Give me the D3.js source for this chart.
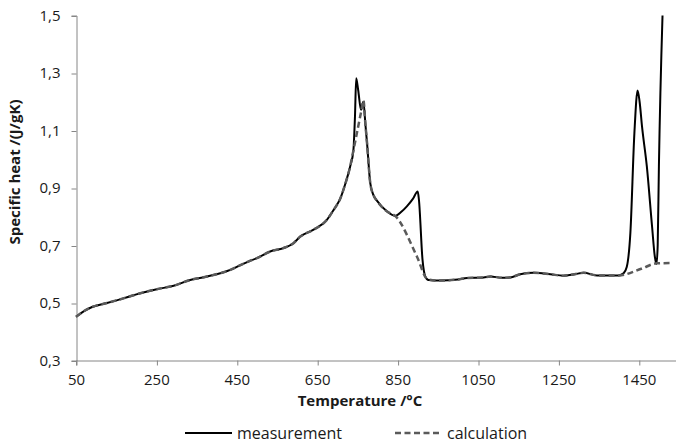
<!DOCTYPE html>
<html><head><meta charset="utf-8">
<script src="https://cdn.jsdelivr.net/npm/d3@7"></script>
<style>body{margin:0;background:#fff}svg{display:block}text{font-family:"Open Sans",sans-serif;fill:#1a1a1a}</style>
</head><body>
<svg id="c" width="676" height="443"></svg>
<script>
const xTicks = [50, 250, 450, 650, 850, 1050, 1250, 1450];
const yTicks = [0.3, 0.5, 0.7, 0.9, 1.1, 1.3, 1.5];
const seriesNames = ["measurement", "calculation"];

const measT = [50,70,90,127,170,210,251,293,334,376,417,434,459,480,500,533,566,591,608,641,674,691,707,720,732,740,744,747,752,759,765,770,774,782,790,799,824,844,860,873,888,900,903,912,919,927,956,1000,1023,1064,1081,1110,1130,1155,1188,1230,1262,1290,1313,1346,1400,1412,1420,1429,1439,1447,1452,1458,1470,1483,1490,1494,1497,1500,1509];
const measV = [0.452,0.472,0.486,0.500,0.517,0.534,0.548,0.560,0.580,0.592,0.607,0.615,0.632,0.645,0.656,0.679,0.691,0.708,0.731,0.755,0.789,0.824,0.862,0.915,0.975,1.030,1.150,1.282,1.240,1.172,1.200,1.120,1.056,0.917,0.875,0.855,0.818,0.803,0.818,0.836,0.862,0.888,0.860,0.650,0.592,0.580,0.578,0.582,0.587,0.589,0.592,0.588,0.589,0.600,0.605,0.600,0.595,0.600,0.605,0.596,0.596,0.603,0.625,0.743,1.090,1.239,1.200,1.114,0.975,0.766,0.660,0.636,0.700,0.975,1.500];

const calcT = [50,70,90,127,170,210,251,293,334,376,417,434,459,480,500,533,566,591,608,641,674,691,707,720,732,740,750,760,765,770,774,782,790,799,824,844,898,925,956,1000,1023,1064,1081,1110,1130,1155,1188,1230,1262,1290,1313,1346,1400,1456,1495,1535];
const calcV = [0.452,0.472,0.486,0.500,0.517,0.534,0.548,0.560,0.580,0.592,0.607,0.615,0.632,0.645,0.656,0.679,0.691,0.708,0.731,0.755,0.789,0.824,0.862,0.915,0.975,1.030,1.100,1.170,1.205,1.120,1.056,0.917,0.875,0.855,0.818,0.803,0.662,0.582,0.578,0.582,0.587,0.589,0.592,0.588,0.589,0.600,0.605,0.600,0.595,0.600,0.605,0.596,0.596,0.619,0.638,0.639];

const svg = d3.select("#c");
const x = d3.scaleLinear().domain([50, 1550]).range([76, 679]);
const y = d3.scaleLinear().domain([0.3, 1.5]).range([360.5, 15.5]);
const axisColor = "#868686";
const fmt = d => d3.format(".1f")(d).replace(".", ",");

const xa = svg.append("g").attr("transform", "translate(0,360.5)")
  .call(d3.axisBottom(x).tickValues(xTicks).tickSize(5).tickPadding(9).tickFormat(d => d));
const ya = svg.append("g").attr("transform", "translate(76.5,0)")
  .call(d3.axisLeft(y).tickValues(yTicks).tickSize(5).tickPadding(11).tickFormat(fmt));
[xa, ya].forEach(g => {
  g.select(".domain").attr("stroke", axisColor);
  g.selectAll(".tick line").attr("stroke", axisColor);
  g.selectAll(".tick text").style("font-size", "15px").attr("fill", "#1a1a1a");
});
xa.selectAll(".tick line").attr("transform", "translate(0.5,0)");
ya.selectAll(".tick line").attr("transform", "translate(0,0.5)");

const line = d3.line().x(d => x(d[0])).y(d => y(d[1])).curve(d3.curveMonotoneX);
const measData = measT.map((t, i) => [t, measV[i]]);
const calcData = calcT.map((t, i) => [t, calcV[i]]);

svg.append("path").datum(measData).attr("d", line)
  .attr("fill", "none").attr("stroke", "#000").attr("stroke-width", 2).attr("stroke-linejoin", "round");
svg.append("path").datum(calcData).attr("d", line)
  .attr("fill", "none").attr("stroke", "#5a5a5a").attr("stroke-width", 2.5).attr("stroke-dasharray", "6,3.5");

svg.append("text").attr("x", 360).attr("y", 406).attr("text-anchor", "middle")
  .style("font-size", "15px").style("font-weight", "bold").text("Temperature /°C");
svg.append("text").attr("transform", "translate(20,172) rotate(-90)").attr("text-anchor", "middle")
  .style("font-size", "15px").style("font-weight", "bold").text("Specific heat /(J/gK)");

const leg = [
  {name: seriesNames[0], x1: 185, x2: 232, tx: 237, color: "#000", w: 2, dash: null},
  {name: seriesNames[1], x1: 395, x2: 442, tx: 447, color: "#5a5a5a", w: 2.5, dash: "6,3.5"}
];
leg.forEach(l => {
  svg.append("line").attr("x1", l.x1).attr("x2", l.x2).attr("y1", 433).attr("y2", 433)
    .attr("stroke", l.color).attr("stroke-width", l.w).attr("stroke-dasharray", l.dash);
  svg.append("text").attr("x", l.tx).attr("y", 439).style("font-size", "16px").text(l.name);
});
</script>
</body></html>
